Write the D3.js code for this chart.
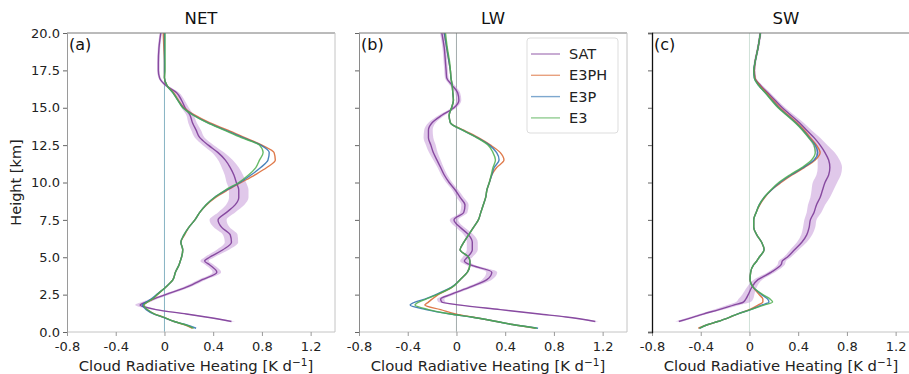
<!DOCTYPE html>
<html><head><meta charset="utf-8">
<script src="https://cdn.jsdelivr.net/npm/d3@7"></script>
<style>body{margin:0;background:#fff}svg{display:block;font-family:"DejaVu Sans",sans-serif}</style>
</head><body><svg id="c" width="909" height="374"></svg>
<script>
// ---------------- data ----------------
const heights = [20,19,18,17.5,17,16.5,16,15.5,15,14.5,14,13.5,13,12.5,12,11.5,11,10.5,10,9.5,9,8.5,8,7.5,7,6.5,6,5.5,5,4.75,4.5,4,3.5,3,2.5,2.2,2.0,1.8,1.5,1.2,1.0,0.7,0.5,0.25];
const panelTitles = ["NET","LW","SW"];
const panelTags = ["(a)","(b)","(c)"];
const seriesNames = ["SAT","E3PH","E3P","E3"];
const xTicks = [-0.8,-0.4,0,0.4,0.8,1.2];
const xTickLabels = ["-0.8","-0.4","0","0.4","0.8","1.2"];
const yTicks = [0,2.5,5,7.5,10,12.5,15,17.5,20];
const yTickLabels = ["0.0","2.5","5.0","7.5","10.0","12.5","15.0","17.5","20.0"];

const netSAT = [-0.03,-0.045,-0.05,-0.05,-0.04, 0.01,0.10,0.14,0.17,0.21, 0.23,0.26,0.29,0.36,0.44, 0.50,0.54,0.57,0.59,0.61, 0.61,0.58,0.51,0.44,0.47, 0.54,0.55,0.48,0.37,0.33, 0.37,0.43,0.31,0.18,0.01, -0.09,-0.15,-0.20,-0.07,0.18, 0.34,0.55,null,null];
const netSATerr = [0.01,0.01,0.01,0.01,0.01, 0.015,0.02,0.025,0.03,0.03, 0.035,0.04,0.04,0.045,0.05, 0.06,0.07,0.075,0.08,0.08, 0.08,0.075,0.07,0.07,0.065, 0.06,0.055,0.05,0.04,0.035, 0.035,0.035,0.03,0.03,0.03, 0.03,0.035,0.04,0.03,0.03, 0.03,0.03,null,null];
const netE3PH = [-0.01,-0.005,0.0,0.0,0.0, 0.02,0.075,0.115,0.16,0.25, 0.37,0.52,0.66,0.80,0.90, 0.91,0.84,0.74,0.63,0.52, 0.42,0.345,0.29,0.25,0.20, 0.165,0.135,0.15,0.14,0.13, 0.12,0.09,0.07,0.01,-0.06, -0.10,-0.14,-0.17,-0.145,-0.08, -0.01,0.08,0.16,0.23];
const netE3P = [0.0,0.0,0.0,0.0,0.0, 0.02,0.07,0.11,0.155,0.24, 0.355,0.50,0.645,0.79,0.86, 0.85,0.79,0.71,0.62,0.51, 0.41,0.34,0.29,0.25,0.20, 0.16,0.135,0.15,0.14,0.13, 0.12,0.09,0.07,0.01,-0.065, -0.11,-0.15,-0.18,-0.15,-0.085, -0.015,0.08,0.17,0.26];
const netE3 = [0.005,0.005,0.005,0.005,0.0, 0.02,0.07,0.11,0.15,0.235, 0.35,0.49,0.63,0.78,0.81, 0.78,0.75,0.69,0.61,0.50, 0.41,0.34,0.29,0.25,0.20, 0.16,0.135,0.15,0.14,0.13, 0.12,0.09,0.07,0.01,-0.06, -0.10,-0.14,-0.17,-0.14,-0.08, -0.01,0.08,0.165,0.24];

const lwSAT = [-0.12,-0.10,-0.09,-0.085,-0.08, -0.035,0.01,0.02,-0.02,-0.12, -0.20,-0.23,-0.23,-0.21,-0.19, -0.16,-0.13,-0.10,-0.06,-0.01, 0.03,0.07,0.06,-0.02,0.03, 0.10,0.13,0.13,0.09,0.065, 0.11,0.29,0.25,0.11,-0.05, -0.13,-0.12,0.03,0.36,0.68, 0.90,1.14,null,null];
const lwSATerr = [0.015,0.015,0.015,0.015,0.015, 0.02,0.02,0.02,0.02,0.025, 0.03,0.035,0.04,0.04,0.035, 0.03,0.025,0.025,0.025,0.025, 0.03,0.03,0.03,0.035,0.035, 0.04,0.045,0.045,0.04,0.035, 0.035,0.045,0.04,0.03,0.03, 0.03,0.03,0.03,0.03,0.03, 0.03,0.03,null,null];
const lwE3PH = [-0.10,-0.08,-0.06,-0.05,-0.045, -0.035,-0.03,-0.025,-0.04,-0.06, -0.05,0.06,0.18,0.28,0.36, 0.39,0.33,0.29,0.27,0.25, 0.24,0.22,0.20,0.18,0.14, 0.10,0.06,0.03,0.10,0.11, 0.11,0.09,0.03,-0.035,-0.15, -0.20,-0.23,-0.26,-0.13,0.0, 0.13,0.33,0.46,0.65];
const lwE3P = [-0.10,-0.08,-0.06,-0.05,-0.045, -0.035,-0.03,-0.025,-0.04,-0.06, -0.05,0.05,0.17,0.27,0.33, 0.35,0.31,0.29,0.27,0.25, 0.24,0.22,0.20,0.18,0.14, 0.10,0.06,0.03,0.10,0.11, 0.11,0.09,0.03,-0.04,-0.17, -0.26,-0.34,-0.38,-0.25,-0.05, 0.12,0.33,0.46,0.67];
const lwE3 = [-0.09,-0.075,-0.055,-0.05,-0.045, -0.035,-0.03,-0.025,-0.04,-0.06, -0.05,0.05,0.165,0.26,0.30, 0.32,0.30,0.285,0.27,0.25, 0.24,0.22,0.20,0.18,0.14, 0.10,0.06,0.03,0.10,0.11, 0.11,0.09,0.03,-0.035,-0.16, -0.25,-0.31,-0.34,-0.23,-0.05, 0.12,0.33,0.46,0.66];

const swSAT = [0.09,0.07,0.045,0.04,0.045, 0.09,0.15,0.21,0.27,0.34, 0.41,0.47,0.53,0.58,0.62, 0.65,0.66,0.65,0.62,0.60, 0.58,0.55,0.53,0.50,0.49, 0.47,0.43,0.37,0.31,0.27, 0.26,0.18,0.07,0.02,-0.01, -0.03,-0.05,-0.13,-0.25,-0.38, -0.46,-0.58,null,null];
const swSATerr = [0.01,0.01,0.01,0.01,0.01, 0.015,0.02,0.02,0.025,0.03, 0.035,0.04,0.05,0.06,0.08, 0.09,0.10,0.10,0.10,0.09, 0.08,0.07,0.06,0.05,0.05, 0.045,0.04,0.035,0.03,0.03, 0.03,0.03,0.035,0.04,0.05, 0.06,0.06,0.05,0.04,0.03, 0.03,0.03,null,null];
const swE3PH = [0.09,0.07,0.045,0.04,0.045, 0.085,0.14,0.195,0.25,0.32, 0.39,0.45,0.50,0.55,0.58, 0.54,0.45,0.35,0.26,0.18, 0.125,0.085,0.055,0.035,0.035, 0.06,0.10,0.12,0.08,0.06, 0.035,0.01,0.005,0.03,0.08, 0.11,0.11,0.07,0.0,-0.10, -0.16,-0.26,-0.34,-0.42];
const swE3P = [0.09,0.07,0.045,0.035,0.04, 0.075,0.13,0.185,0.24,0.31, 0.38,0.44,0.49,0.54,0.56, 0.53,0.44,0.34,0.25,0.18, 0.12,0.08,0.055,0.035,0.035, 0.06,0.10,0.12,0.08,0.06, 0.035,0.01,0.005,0.03,0.10, 0.15,0.16,0.10,0.01,-0.10, -0.16,-0.26,-0.34,-0.41];
const swE3 = [0.09,0.07,0.045,0.035,0.04, 0.075,0.13,0.18,0.235,0.305, 0.375,0.435,0.485,0.53,0.54, 0.51,0.43,0.33,0.24,0.175, 0.12,0.08,0.055,0.035,0.035, 0.06,0.10,0.12,0.08,0.06, 0.035,0.01,0.005,0.03,0.11, 0.17,0.19,0.12,0.01,-0.10, -0.16,-0.26,-0.34,-0.41];

// ---------------- styling ----------------
const colors = {SAT:"#7d3c98", E3PH:"#d9632b", E3P:"#2a6fb0", E3:"#4cae4c"};
const bandColor = "#c79ad8";
const panelLeft = [67, 359, 652];
const panelW = 268, plotTop = 33, plotH = 299;
const zeroColors = ["#86b3c3","#a3acac","#cfe1d8"];
const leftSpine = ["#9a9a9a","#8a8a8a","#111"];

const panelData = [
  {sat: netSAT, err: netSATerr, models: [netE3PH, netE3P, netE3]},
  {sat: lwSAT, err: lwSATerr, models: [lwE3PH, lwE3P, lwE3]},
  {sat: swSAT, err: swSATerr, models: [swE3PH, swE3P, swE3]}
];

const svg = d3.select("#c");
const x = d3.scaleLinear().domain([-0.8, 1.4]).range([0, panelW]);
const y = d3.scaleLinear().domain([0, 20]).range([plotH, 0]);

const defs = svg.append("defs");
defs.append("clipPath").attr("id","clip").append("rect").attr("width",panelW).attr("height",plotH);

panelData.forEach((pd, i) => {
  const g = svg.append("g").attr("transform", `translate(${panelLeft[i]},${plotTop})`);
  const plot = g.append("g").attr("clip-path","url(#clip)");

  plot.append("line").attr("x1",x(0)).attr("x2",x(0)).attr("y1",0).attr("y2",plotH)
    .attr("stroke",zeroColors[i]).attr("stroke-width",1);

  const bandPts = heights.map((h,k)=>({h, v: pd.sat[k], e: pd.err[k]})).filter(d=>d.v!=null);
  plot.append("path").datum(bandPts)
    .attr("d", d3.area().curve(d3.curveMonotoneY)
      .y(d=>y(d.h)).x0(d=>x(d.v-d.e)).x1(d=>x(d.v+d.e)))
    .attr("fill", bandColor).attr("opacity",0.55);

  const line = d3.line().curve(d3.curveMonotoneY).defined(d=>d.v!=null).x(d=>x(d.v)).y(d=>y(d.h));
  const all = [pd.sat, ...pd.models];
  all.forEach((arr, s) => {
    const pts = heights.map((h,k)=>({h, v: arr[k]}));
    plot.append("path").datum(pts).attr("d", line)
      .attr("fill","none").attr("stroke", colors[seriesNames[s]])
      .attr("stroke-width", 1.4).attr("opacity", s===0?0.9:0.85);
  });

  g.append("line").attr("x1",0).attr("x2",panelW).attr("y1",0).attr("y2",0).attr("stroke","#777").attr("stroke-width",1);
  g.append("line").attr("x1",panelW).attr("x2",panelW).attr("y1",0).attr("y2",plotH).attr("stroke","#c4c4c4").attr("stroke-width",1);
  g.append("line").attr("x1",0).attr("x2",panelW).attr("y1",plotH).attr("y2",plotH).attr("stroke","#c4c4c4").attr("stroke-width",1);

  const xa = g.append("g").attr("transform",`translate(0,${plotH})`)
    .call(d3.axisBottom(x).tickValues(xTicks).tickSize(4).tickFormat((d,k)=>xTickLabels[k]));
  xa.select(".domain").remove();
  xa.selectAll("line").attr("stroke","#999");
  xa.selectAll("text").attr("font-size",13).attr("fill","#222").attr("dy","0.95em")
    .attr("font-family","DejaVu Sans");

  const ya = g.append("g")
    .call(d3.axisLeft(y).tickValues(yTicks).tickSize(4).tickFormat((d,k)=> i===0 ? yTickLabels[k] : ""));
  ya.select(".domain").attr("stroke", leftSpine[i]).attr("stroke-width", i===2?1.3:1);
  ya.selectAll("line").attr("stroke","#666");
  ya.selectAll("text").attr("font-size",13).attr("fill","#222").attr("font-family","DejaVu Sans");

  g.append("text").attr("x",panelW/2).attr("y",-9).attr("text-anchor","middle")
    .attr("font-size",16.5).attr("fill","#111").text(panelTitles[i]);
  g.append("text").attr("x",2).attr("y",17).attr("font-size",16).attr("fill","#111").text(panelTags[i]);

  const xl = g.append("text").attr("x",panelW/2 - 5).attr("y",plotH+39).attr("text-anchor","middle")
    .attr("font-size",14.8).attr("fill","#222");
  xl.append("tspan").text("Cloud Radiative Heating [K d");
  xl.append("tspan").attr("dy",-5).attr("font-size",10.5).text("\u22121");
  xl.append("tspan").attr("dy",5).text("]");
});

svg.append("text").attr("transform",`translate(21,${plotTop+plotH/2}) rotate(-90)`)
  .attr("text-anchor","middle").attr("font-size",14.5).attr("fill","#222").text("Height [km]");

const lg = svg.append("g").attr("transform","translate(527,38)");
lg.append("rect").attr("width",91).attr("height",95).attr("rx",3)
  .attr("fill","#fff").attr("fill-opacity",0.8).attr("stroke","#ddd");
seriesNames.forEach((n,k)=>{
  const yy = 16 + k*21.3;
  lg.append("line").attr("x1",4).attr("x2",33).attr("y1",yy).attr("y2",yy)
    .attr("stroke",colors[n]).attr("stroke-width",1.4).attr("opacity",0.6);
  lg.append("text").attr("x",42).attr("y",yy+5).attr("font-size",14.5).attr("fill","#222").text(n);
});
</script></body></html>
